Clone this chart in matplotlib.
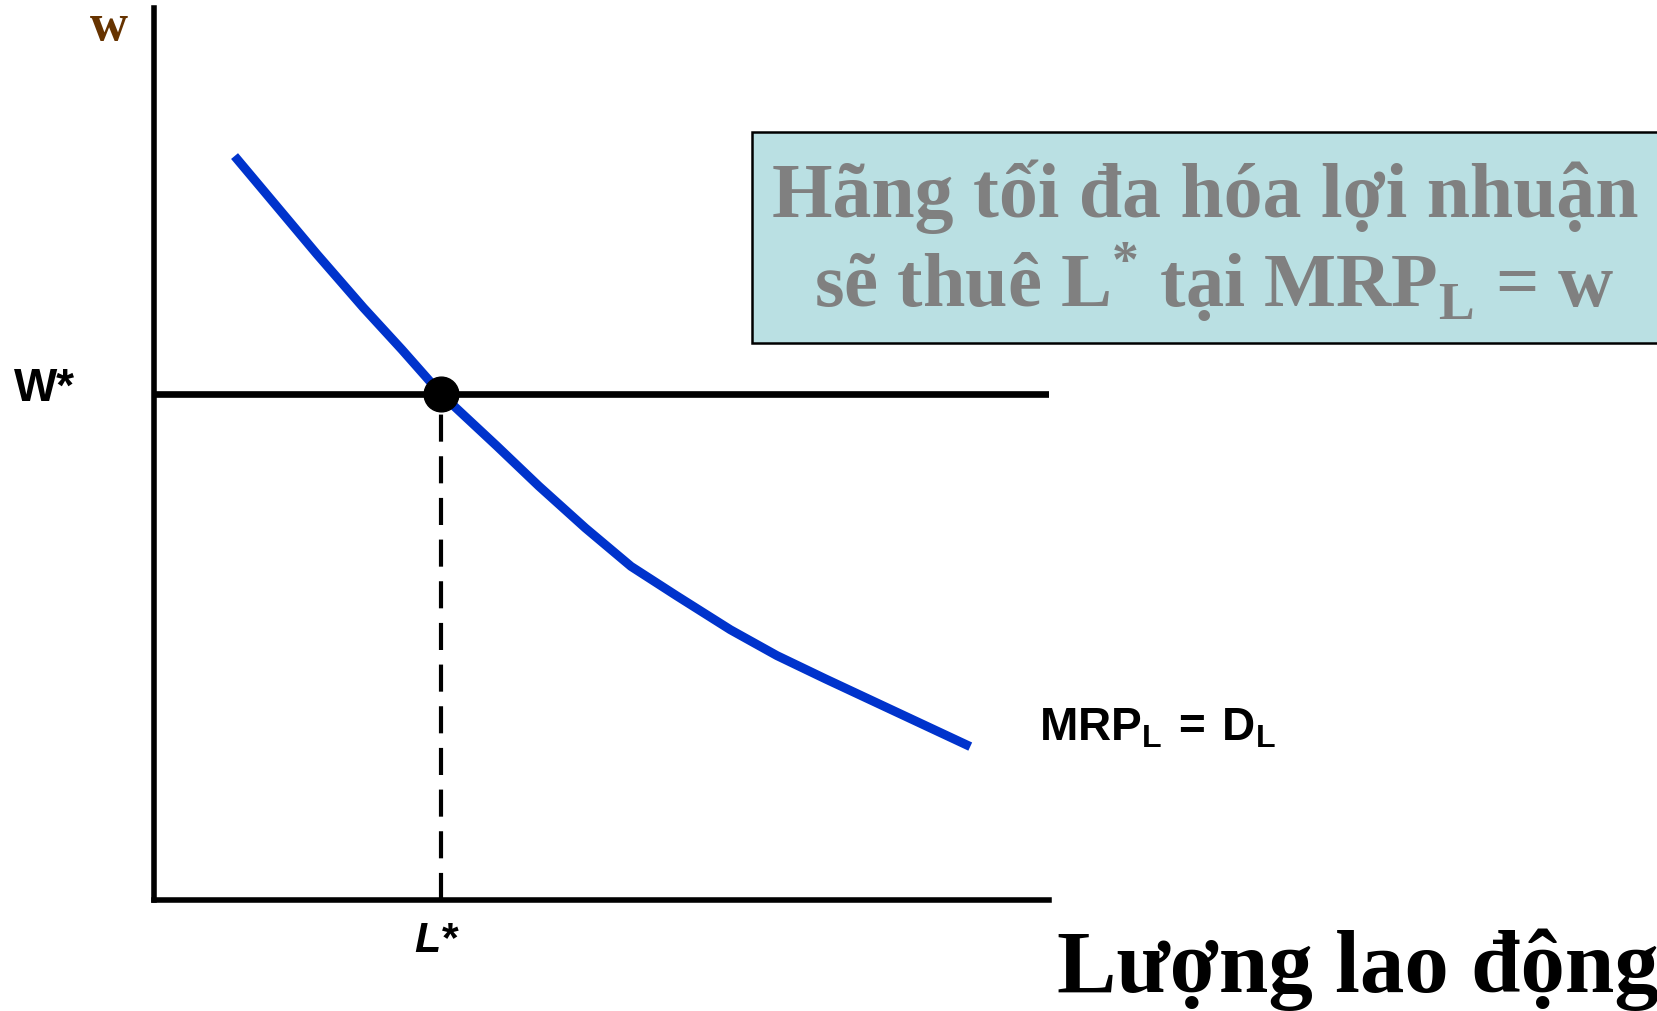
import matplotlib
matplotlib.use("Agg")
import matplotlib.pyplot as plt
from matplotlib.patches import Rectangle

# Đường MRP_L (cầu lao động), đơn vị tùy ý
lao_dong = [0.90, 1.82, 2.34, 2.77, 3.21, 3.83, 4.30, 4.82, 5.33, 5.84, 6.44, 6.96, 7.50, 9.12]
mrp_l = [8.34, 7.24, 6.64, 6.17, 5.67, 5.09, 4.64, 4.17, 3.74, 3.41, 3.03, 2.74, 2.48, 1.72]

# Điểm cân bằng
L_sao = 3.21
W_sao = 5.67

W, H = 1658, 1011


def px(x, y):
    # chuyển tọa độ pixel sang tọa độ figure
    return x / W, 1 - y / H


plt.rcParams['mathtext.fontset'] = 'custom'
plt.rcParams['mathtext.bf'] = 'Liberation Sans:bold'
plt.rcParams['mathtext.rm'] = 'Liberation Sans:bold'

fig = plt.figure(figsize=(16.58, 10.11), dpi=100)
ax = fig.add_axes([154 / W, 1 - 900 / H, (1049 - 154) / W, (900 - 8) / H])
ax.set_xlim(0, 10)
ax.set_ylim(0, 10)
for s in ['top', 'right']:
    ax.spines[s].set_visible(False)
for s in ['left', 'bottom']:
    ax.spines[s].set_linewidth(4.0)
ax.set_xticks([])
ax.set_yticks([])

# đường lương
ax.axhline(W_sao, color='black', lw=4.8)
# đường đứt nét tại L*
ax.vlines(L_sao, 0, W_sao, color='black', lw=3.0, linestyles=(0, (6.5, 3.5)))
# đường MRP_L
ax.plot(lao_dong, mrp_l, color='#0033cc', lw=6.5, solid_capstyle='butt')
ax.plot([L_sao], [W_sao], 'o', color='black', markersize=25, zorder=5)

# nhãn trục
fig.text(*px(109, 40), 'w', color='#663300', family='Liberation Serif',
         weight='bold', size=38, ha='center', va='baseline')
fig.text(*px(44, 389), 'W*', family='Liberation Sans', weight='bold',
         size=33, ha='center', va='center')
fig.text(*px(436, 952), 'L*', family='Liberation Sans', weight='bold',
         style='italic', size=31, ha='center', va='baseline')
fig.text(*px(1039, 740), r'$\mathbf{MRP_L\,=\,D_L}$', size=33,
         ha='left', va='baseline')
fig.text(*px(1057, 992), 'Lượng lao động', family='Liberation Serif',
         weight='bold', size=64, ha='left', va='baseline')

# hộp chú thích
x0, y0 = px(752, 343)
fig.patches.append(Rectangle((x0, y0), 1.05 - x0, (343 - 132) / H,
                             transform=fig.transFigure, facecolor='#bae0e3',
                             edgecolor='black', lw=1.8))
fig.text(*px(1205, 217), 'Hãng tối đa hóa lợi nhuận', family='Liberation Serif',
         weight='bold', color='#808080', size=56, ha='center', va='baseline')
fig.text(*px(1214, 307), r'sẽ thuê L$^{\mathregular{*}}$ tại MRP$_{\mathregular{L}}$ = w',
         family='Liberation Serif', weight='bold', color='#808080', size=55,
         ha='center', va='baseline')

fig.savefig('out.png', dpi=100)
